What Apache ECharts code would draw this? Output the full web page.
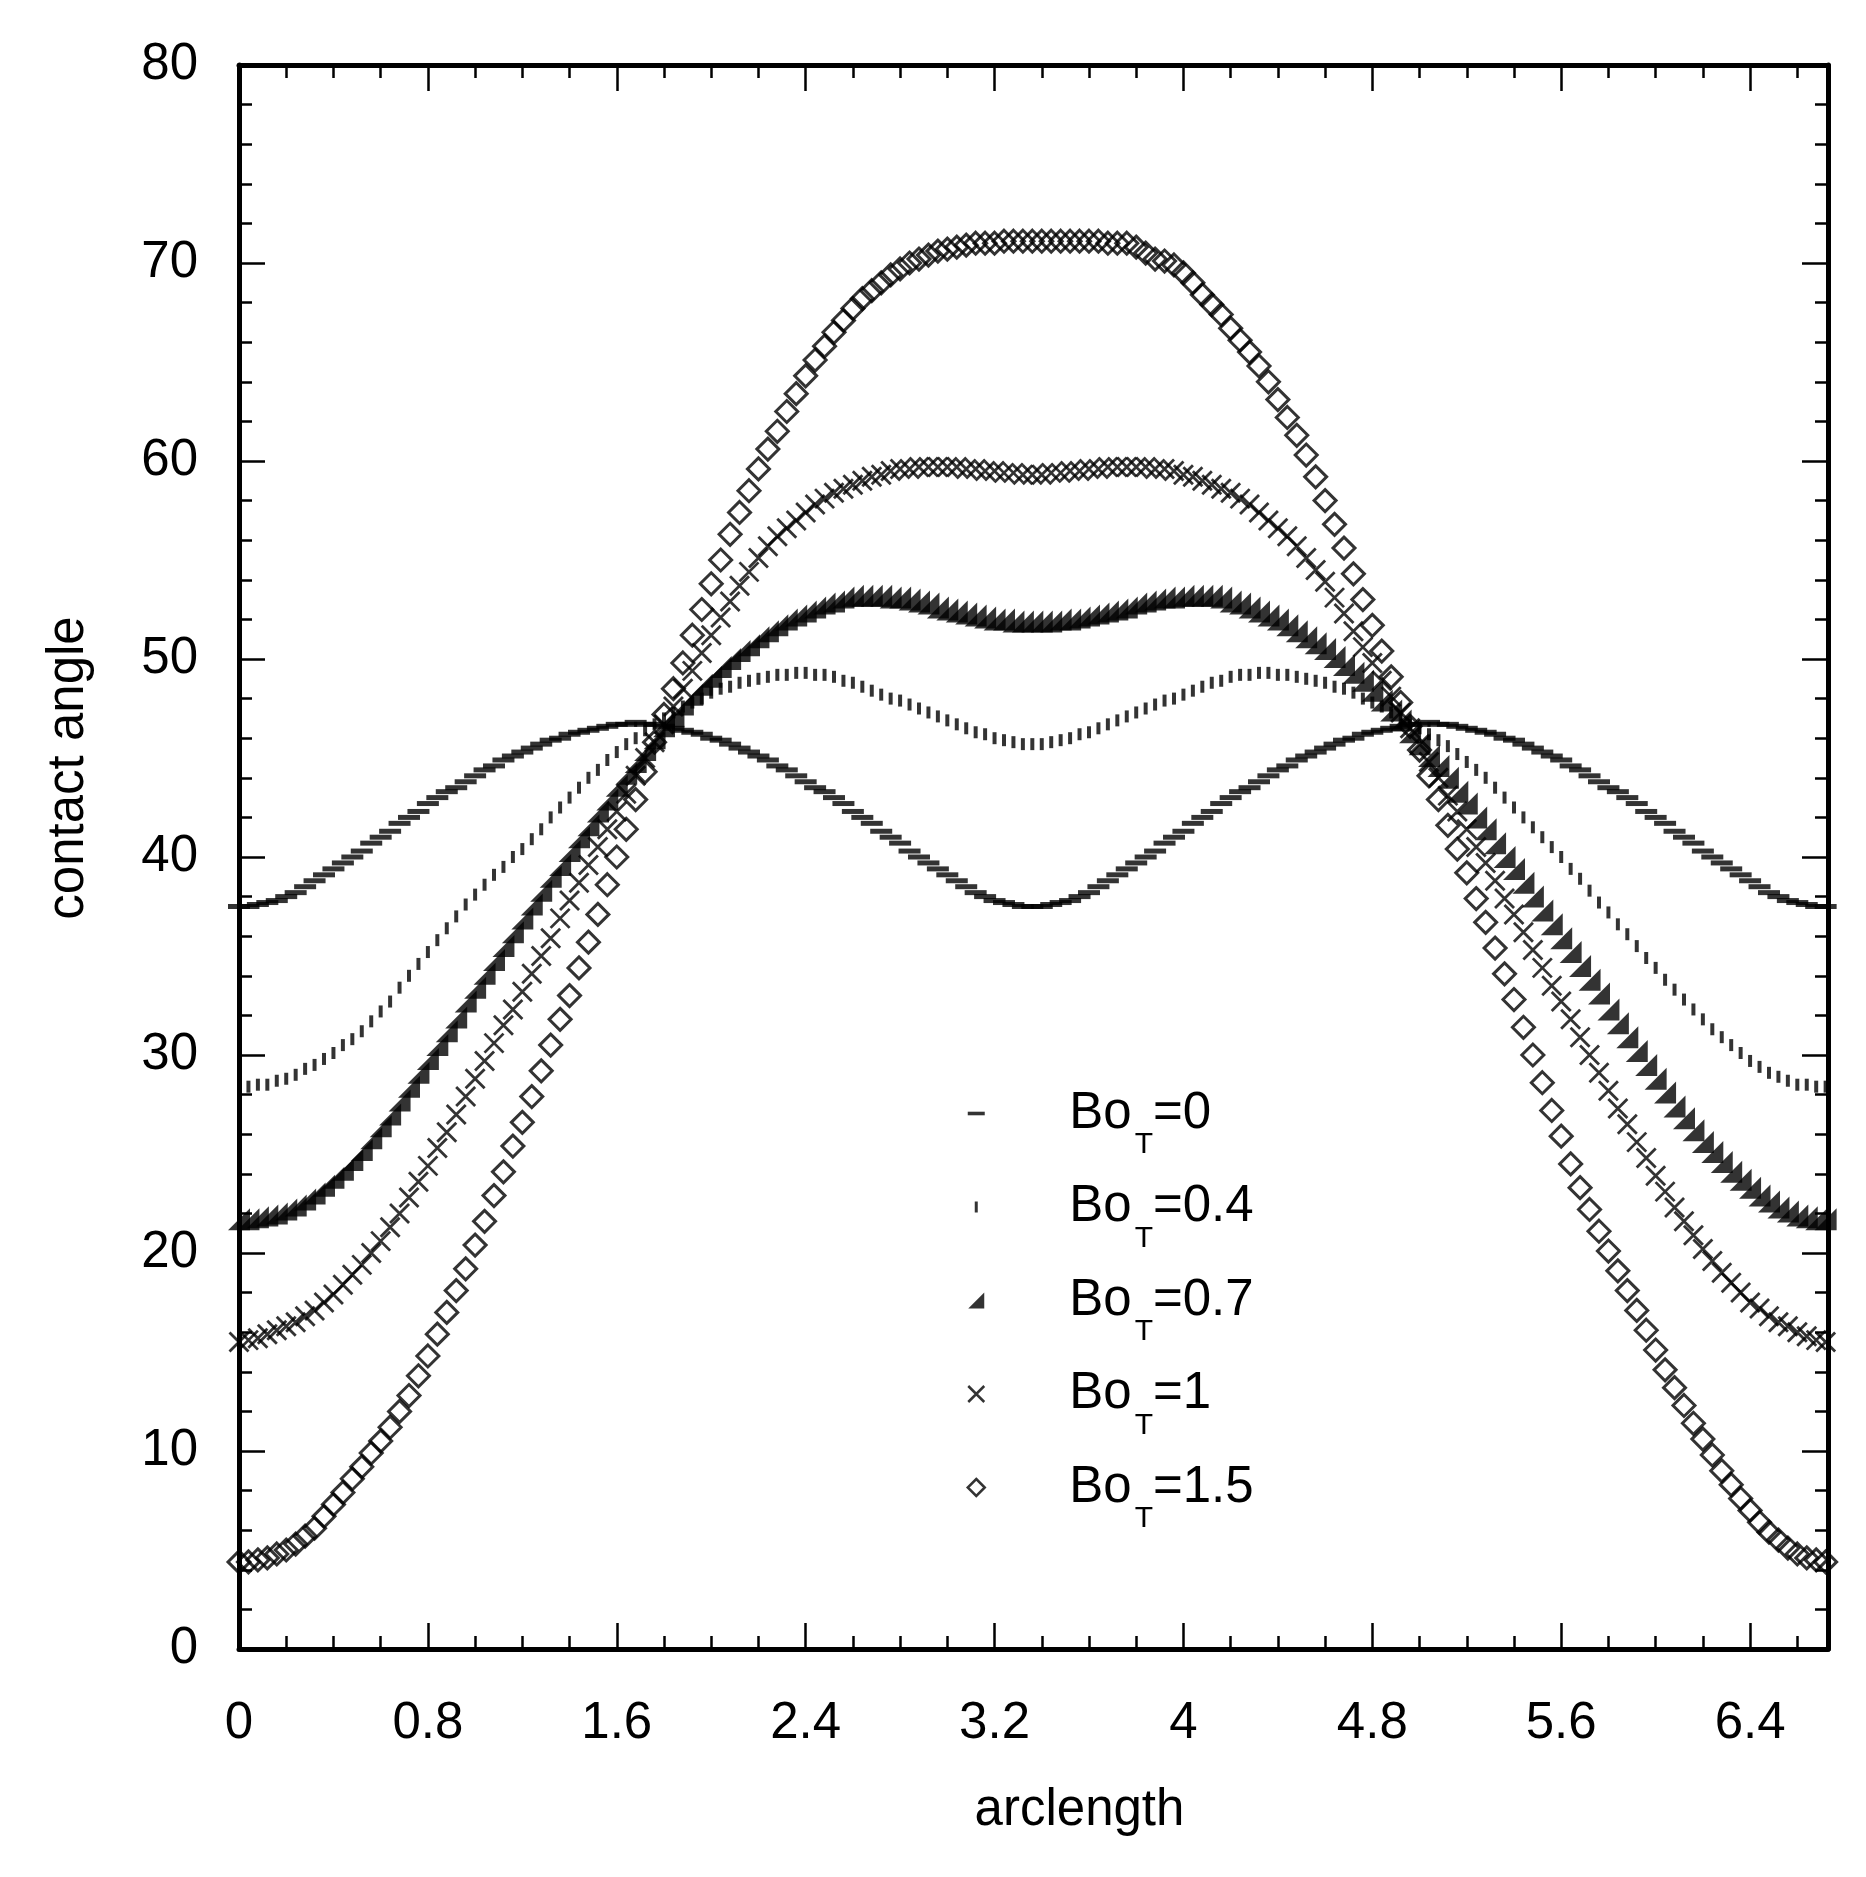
<!DOCTYPE html>
<html>
<head>
<meta charset="utf-8">
<title>contact angle vs arclength</title>
<script src="https://cdn.jsdelivr.net/npm/echarts@6/dist/echarts.min.js"></script>
<style>
  html, body { margin: 0; padding: 0; background: #fff; }
  #chart { width: 1866px; height: 1877px; }
</style>
</head>
<body>
<div id="chart"></div>
<script>
// sample positions along the contact line
var arclength = [
  0, 0.04, 0.08, 0.12, 0.16, 0.2, 0.24, 0.28, 0.32, 0.36, 0.4, 0.44, 0.48, 0.52, 0.56, 0.6, 0.64, 0.68, 0.72, 0.76, 0.8, 0.84, 0.88, 0.92, 0.96,
  1, 1.04, 1.08, 1.12, 1.16, 1.2, 1.24, 1.28, 1.32, 1.36, 1.4, 1.44, 1.48, 1.52, 1.56, 1.6, 1.64, 1.68, 1.72, 1.76, 1.8, 1.84, 1.88, 1.92, 1.96,
  2, 2.04, 2.08, 2.12, 2.16, 2.2, 2.24, 2.28, 2.32, 2.36, 2.4, 2.44, 2.48, 2.52, 2.56, 2.6, 2.64, 2.68, 2.72, 2.76, 2.8, 2.84, 2.88, 2.92, 2.96,
  3, 3.04, 3.08, 3.12, 3.16, 3.2, 3.24, 3.28, 3.32, 3.36, 3.4, 3.44, 3.48, 3.52, 3.56, 3.6, 3.64, 3.68, 3.72, 3.76, 3.8, 3.84, 3.88, 3.92, 3.96,
  4, 4.04, 4.08, 4.12, 4.16, 4.2, 4.24, 4.28, 4.32, 4.36, 4.4, 4.44, 4.48, 4.52, 4.56, 4.6, 4.64, 4.68, 4.72, 4.76, 4.8, 4.84, 4.88, 4.92, 4.96,
  5, 5.04, 5.08, 5.12, 5.16, 5.2, 5.24, 5.28, 5.32, 5.36, 5.4, 5.44, 5.48, 5.52, 5.56, 5.6, 5.64, 5.68, 5.72, 5.76, 5.8, 5.84, 5.88, 5.92, 5.96,
  6, 6.04, 6.08, 6.12, 6.16, 6.2, 6.24, 6.28, 6.32, 6.36, 6.4, 6.44, 6.48, 6.52, 6.56, 6.6, 6.64, 6.68, 6.72
];

var boValues = ["0", "0.4", "0.7", "1", "1.5"];

var angleBo0 = [
  37.5, 37.5, 37.6, 37.7, 37.8, 38.0, 38.2, 38.5, 38.8, 39.1, 39.4, 39.7, 40.0, 40.3, 40.7, 41.0, 41.3, 41.7, 42.0, 42.3,
  42.7, 43.0, 43.3, 43.5, 43.8, 44.1, 44.4, 44.6, 44.9, 45.1, 45.3, 45.5, 45.7, 45.9, 46.0, 46.2, 46.3, 46.4, 46.5, 46.6,
  46.7, 46.7, 46.8,
  46.7, 46.7, 46.6, 46.5, 46.4, 46.3, 46.2, 46.0, 45.9, 45.7, 45.5, 45.3, 45.1, 44.9, 44.6, 44.4, 44.1, 43.8, 43.5, 43.3,
  43.0, 42.7, 42.3, 42.0, 41.7, 41.3, 41.0, 40.7, 40.3, 40.0, 39.7, 39.4, 39.1, 38.8, 38.5, 38.2, 38.0, 37.8, 37.7, 37.6,
  37.5, 37.5,
  37.5, 37.6, 37.7, 37.8, 38.0, 38.2, 38.5, 38.8, 39.1, 39.4, 39.7, 40.0, 40.3, 40.7, 41.0, 41.3, 41.7, 42.0, 42.3, 42.7,
  43.0, 43.3, 43.5, 43.8, 44.1, 44.4, 44.6, 44.9, 45.1, 45.3, 45.5, 45.7, 45.9, 46.0, 46.2, 46.3, 46.4, 46.5, 46.6, 46.7,
  46.7, 46.8,
  46.7, 46.7, 46.6, 46.5, 46.4, 46.3, 46.2, 46.0, 45.9, 45.7, 45.5, 45.3, 45.1, 44.9, 44.6, 44.4, 44.1, 43.8, 43.5, 43.3,
  43.0, 42.7, 42.3, 42.0, 41.7, 41.3, 41.0, 40.7, 40.3, 40.0, 39.7, 39.4, 39.1, 38.8, 38.5, 38.2, 38.0, 37.8, 37.7, 37.6,
  37.5, 37.5
];

var angleBo04 = [
  28.4, 28.4, 28.5, 28.5, 28.7, 28.8, 29.0, 29.3, 29.5, 29.8,
  30.1, 30.5, 30.8, 31.2, 31.7, 32.2, 32.7, 33.4, 34.0, 34.6,
  35.2, 35.8, 36.4, 37.0, 37.6, 38.1, 38.6, 39.1, 39.5, 40.0,
  40.4, 40.9, 41.4, 42.0, 42.5, 43.0, 43.5, 44.0, 44.4, 44.9,
  45.3, 45.7, 46.0, 46.4, 46.7, 47.0, 47.3, 47.6, 47.8, 48.0,
  48.3, 48.5, 48.6, 48.8, 48.9, 49.0, 49.1, 49.2, 49.2, 49.3,
  49.3, 49.2, 49.2, 49.1, 48.9, 48.8, 48.6, 48.4, 48.2, 48.0,
  47.9, 47.7, 47.5, 47.3, 47.1, 46.9, 46.7, 46.5, 46.3, 46.2,
  46.0, 45.9, 45.8, 45.7, 45.7,
  45.7, 45.8, 45.9, 46.0, 46.2, 46.3, 46.5, 46.7, 46.9, 47.1,
  47.3, 47.5, 47.7, 47.9, 48.0, 48.2, 48.4, 48.6, 48.8, 48.9,
  49.1, 49.2, 49.2, 49.3, 49.3, 49.2, 49.2, 49.1, 49.0, 48.9,
  48.8, 48.6, 48.5, 48.3, 48.0, 47.8, 47.6, 47.3, 47.0, 46.7,
  46.5, 46.2, 45.9, 45.6, 45.2, 44.8, 44.4, 44.0, 43.5, 43.0,
  42.5, 42.0, 41.5, 41.0, 40.5, 40.0, 39.4, 38.9, 38.3, 37.7,
  37.2, 36.6, 36.1, 35.5, 34.9, 34.4, 33.8, 33.3, 32.8, 32.3,
  31.8, 31.3, 30.9, 30.5, 30.1, 29.7, 29.4, 29.1, 28.9, 28.7,
  28.5, 28.5, 28.4, 28.4
];

var angleBo07 = [
  21.7, 21.7, 21.8, 21.9, 22.0, 22.2, 22.4, 22.7, 23.0, 23.4,
  23.8, 24.2, 24.7, 25.2, 25.8, 26.4, 27.0, 27.7, 28.4, 29.1,
  29.8, 30.5, 31.2, 31.9, 32.7, 33.4, 34.1, 34.8, 35.5, 36.2,
  36.9, 37.6, 38.3, 39.0, 39.6, 40.3, 41.0, 41.6, 42.3, 42.9,
  43.6, 44.2, 44.8, 45.4, 46.0, 46.6, 47.1, 47.7, 48.2, 48.7,
  49.1, 49.6, 50.0, 50.4, 50.7, 51.1, 51.4, 51.7, 52.0, 52.2,
  52.4, 52.6, 52.8, 52.9, 53.1, 53.2, 53.2, 53.2, 53.2, 53.1,
  53.1, 53.0, 52.9, 52.8, 52.6, 52.5, 52.4, 52.3, 52.2, 52.1,
  52.0, 52.0, 51.9, 51.9, 51.9,
  51.9, 51.9, 52.0, 52.0, 52.1, 52.2, 52.3, 52.4, 52.5, 52.6,
  52.8, 52.9, 53.0, 53.1, 53.1, 53.2, 53.2, 53.2, 53.2, 53.1,
  52.9, 52.8, 52.6, 52.4, 52.2, 52.0, 51.7, 51.4, 51.1, 50.8,
  50.5, 50.1, 49.7, 49.3, 48.9, 48.4, 47.9, 47.4, 46.9, 46.3,
  45.7, 45.1, 44.6, 44.0, 43.3, 42.7, 42.0, 41.4, 40.7, 40.0,
  39.4, 38.7, 38.0, 37.3, 36.6, 35.9, 35.2, 34.5, 33.8, 33.1,
  32.3, 31.6, 30.9, 30.2, 29.5, 28.8, 28.1, 27.4, 26.8, 26.2,
  25.6, 25.1, 24.6, 24.1, 23.7, 23.3, 22.9, 22.6, 22.3, 22.1,
  21.9, 21.8, 21.7, 21.7
];

var angleBo1 = [
  15.5, 15.6, 15.7, 15.9, 16.1, 16.3, 16.5, 16.8, 17.1, 17.5,
  17.9, 18.4, 18.9, 19.4, 20.0, 20.6, 21.3, 22.0, 22.8, 23.6,
  24.4, 25.3, 26.1, 27.0, 27.9, 28.8, 29.7, 30.6, 31.5, 32.3,
  33.2, 34.1, 35.0, 35.9, 36.9, 37.8, 38.7, 39.6, 40.5, 41.4,
  42.3, 43.2, 44.1, 45.0, 45.8, 46.7, 47.6, 48.5, 49.4, 50.3,
  51.2, 52.1, 52.9, 53.7, 54.4, 55.1, 55.7, 56.2, 56.6, 57.0,
  57.4, 57.8, 58.1, 58.4, 58.6, 58.8, 59.0, 59.2, 59.3, 59.5,
  59.6, 59.6, 59.7, 59.7, 59.7, 59.7, 59.7, 59.6, 59.6, 59.5,
  59.5, 59.4, 59.4, 59.3, 59.3,
  59.3, 59.4, 59.4, 59.5, 59.5, 59.6, 59.6, 59.7, 59.7, 59.7,
  59.7, 59.7, 59.6, 59.6, 59.5, 59.3, 59.2, 59.0, 58.8, 58.6,
  58.4, 58.1, 57.8, 57.4, 57.0, 56.6, 56.2, 55.7, 55.1, 54.5,
  53.9, 53.1, 52.3, 51.4, 50.6, 49.8, 48.9, 48.1, 47.3, 46.5,
  45.7, 44.8, 44.0, 43.1, 42.3, 41.4, 40.5, 39.7, 38.8, 37.9,
  37.1, 36.2, 35.3, 34.4, 33.5, 32.7, 31.8, 30.9, 30.0, 29.1,
  28.2, 27.3, 26.5, 25.6, 24.8, 23.9, 23.1, 22.3, 21.6, 20.9,
  20.2, 19.6, 19.0, 18.5, 18.0, 17.5, 17.2, 16.8, 16.5, 16.3,
  16.0, 15.8, 15.6, 15.5
];

var angleBo15 = [
  4.4, 4.4, 4.5, 4.6, 4.8, 5.0, 5.3, 5.7, 6.1, 6.7,
  7.3, 7.9, 8.6, 9.2, 9.9, 10.5, 11.2, 12.0, 12.8, 13.8,
  14.8, 15.9, 17.0, 18.1, 19.2, 20.4, 21.6, 22.9, 24.1, 25.4,
  26.6, 27.9, 29.2, 30.5, 31.8, 33.0, 34.4, 35.7, 37.1, 38.6,
  40.0, 41.4, 42.9, 44.3, 45.8, 47.2, 48.5, 49.8, 51.2, 52.5,
  53.8, 55.0, 56.3, 57.4, 58.5, 59.6, 60.6, 61.5, 62.5, 63.4,
  64.3, 65.1, 65.8, 66.5, 67.1, 67.7, 68.2, 68.6, 69.0, 69.4,
  69.7, 70.0, 70.2, 70.4, 70.6, 70.7, 70.8, 70.9, 71.0, 71.0,
  71.0, 71.1, 71.1, 71.1, 71.1,
  71.1, 71.1, 71.1, 71.1, 71.1, 71.1, 71.1, 71.0, 71.0, 71.0,
  70.8, 70.5, 70.2, 70.1, 69.9, 69.5, 69.0, 68.4, 67.9, 67.4,
  66.7, 66.1, 65.5, 64.8, 64.0, 63.1, 62.2, 61.3, 60.3, 59.2,
  58.0, 56.8, 55.6, 54.3, 53.0, 51.7, 50.4, 49.1, 47.8, 46.6,
  45.4, 44.1, 42.9, 41.6, 40.4, 39.2, 37.9, 36.7, 35.4, 34.1,
  32.8, 31.4, 30.0, 28.6, 27.2, 25.9, 24.5, 23.3, 22.2, 21.1,
  20.1, 19.1, 18.1, 17.1, 16.1, 15.1, 14.1, 13.2, 12.3, 11.4,
  10.6, 9.8, 9.0, 8.3, 7.6, 7.0, 6.4, 5.9, 5.5, 5.1,
  4.8, 4.6, 4.5, 4.4
];

var xTickLabels = ["0", "0.8", "1.6", "2.4", "3.2", "4", "4.8", "5.6", "6.4"];

var chart = echarts.init(document.getElementById("chart"));
var font = 'Arial, "Liberation Sans", sans-serif';
var black = "#000";

function pairs(ys) {
  var n = Math.min(arclength.length, ys.length);
  var out = [];
  for (var i = 0; i < n; i++) {
    out.push([arclength[i], ys[i]]);
  }
  return out;
}

function xLabel(v) {
  var k = Math.round(v / 0.8);
  return Math.abs(v - k * 0.8) < 1e-6 ? xTickLabels[k] : "";
}

var tickLine = { color: black, width: 2.5 };
var axisLine = { show: true, onZero: false, lineStyle: { color: black, width: 5 } };

function xAxisPart(position, interval, tickLen, withLine, withLabel) {
  return {
    type: "value",
    position: position,
    min: 0,
    max: 6.73,
    interval: interval,
    axisLine: withLine ? axisLine : { show: false, onZero: false },
    axisTick: { show: true, inside: true, length: tickLen, lineStyle: tickLine },
    axisLabel: withLabel
      ? { show: true, margin: 49, fontSize: 51, fontFamily: font, color: black, formatter: xLabel }
      : { show: false },
    splitLine: { show: false }
  };
}

var xBottom = xAxisPart("bottom", 0.8, 26, true, true);
xBottom.name = "arclength";
xBottom.nameLocation = "middle";
xBottom.nameGap = 136;
xBottom.nameTextStyle = { fontSize: 51, fontFamily: font, color: black, padding: [0, 0, 0, 92] };

function yAxisPart(position, withLabel) {
  return {
    type: "value",
    position: position,
    min: 0,
    max: 80,
    interval: 10,
    axisLine: axisLine,
    axisTick: { show: true, inside: true, length: 26, lineStyle: tickLine },
    minorTick: { show: true, splitNumber: 5, length: 13, lineStyle: tickLine },
    axisLabel: withLabel
      ? { show: true, margin: 41, fontSize: 51, fontFamily: font, color: black }
      : { show: false },
    splitLine: { show: false },
    minorSplitLine: { show: false }
  };
}

var yLeft = yAxisPart("left", true);
yLeft.name = "contact angle";
yLeft.nameLocation = "middle";
yLeft.nameRotate = 90;
yLeft.nameGap = 145;
yLeft.nameTextStyle = { fontSize: 51, fontFamily: font, color: black, padding: [0, 0, 0, 178] };

var hollow = "rgba(0,0,0,0)";
var marks = [
  { symbol: "rect", size: [22, 5], style: { color: black },
    icon: "path://M0,0M20,20M1.5,8.2h17v3.6h-17z", iconStyle: { color: black, borderWidth: 0 } },
  { symbol: "rect", size: [4, 12], style: { color: black },
    icon: "path://M0,0M20,20M8.5,4.5h3v11h-3z", iconStyle: { color: black, borderWidth: 0 } },
  { symbol: "path://M10,0L10,10L0,10Z", size: [22, 22], style: { color: black },
    icon: "path://M0,0M20,20M18,2V18H2Z", iconStyle: { color: black, borderWidth: 0 } },
  { symbol: "path://M0,0L10,10M10,0L0,10", size: [19, 19],
    style: { color: hollow, borderColor: black, borderWidth: 2.8 },
    icon: "path://M0,0M20,20M2,2L18,18M18,2L2,18",
    iconStyle: { color: hollow, borderColor: black, borderWidth: 2.5 } },
  { symbol: "diamond", size: [22, 22],
    style: { color: hollow, borderColor: black, borderWidth: 3 },
    icon: "path://M0,0M20,20M10,1.5L18.5,10L10,18.5L1.5,10Z",
    iconStyle: { color: hollow, borderColor: black, borderWidth: 2.5 } }
];

var angleSets = [angleBo0, angleBo04, angleBo07, angleBo1, angleBo15];
var names = boValues.map(function (v) { return "Bo_T=" + v; });

var series = angleSets.map(function (ys, i) {
  return {
    name: names[i],
    type: "scatter",
    xAxisIndex: 0,
    yAxisIndex: 0,
    symbol: marks[i].symbol,
    symbolSize: marks[i].size,
    itemStyle: marks[i].style,
    silent: true,
    data: pairs(ys)
  };
});

var option = {
  backgroundColor: "#fff",
  animation: false,
  grid: { left: 239, top: 65, width: 1589, height: 1584 },
  xAxis: [
    xBottom,
    xAxisPart("bottom", 0.2, 13, false, false),
    xAxisPart("top", 0.8, 26, true, false),
    xAxisPart("top", 0.2, 13, false, false)
  ],
  yAxis: [yLeft, yAxisPart("right", false)],
  legend: {
    orient: "vertical",
    left: 965,
    top: 1043,
    padding: 0,
    itemWidth: 20,
    itemHeight: 20,
    itemGap: -23.5,
    selectedMode: false,
    symbolKeepAspect: true,
    data: names.map(function (n, i) {
      return { name: n, icon: marks[i].icon, itemStyle: marks[i].iconStyle };
    }),
    formatter: function (name) {
      return "{p|}{b|Bo}{s|T}{b|=" + name.split("=")[1] + "}";
    },
    textStyle: {
      fontSize: 51,
      fontFamily: font,
      color: black,
      rich: {
        p: { width: 78, height: 1, lineHeight: 1, verticalAlign: "top" },
        b: { fontSize: 51, fontFamily: font, color: black, height: 51, lineHeight: 71,
             verticalAlign: "top", padding: [20, 0, 0, 0] },
        s: { fontSize: 30, fontFamily: font, color: black, height: 22, lineHeight: 91,
             verticalAlign: "top", padding: [66, 0, 0, 3] }
      }
    }
  },
  series: series
};

chart.setOption(option);
</script>
</body>
</html>
